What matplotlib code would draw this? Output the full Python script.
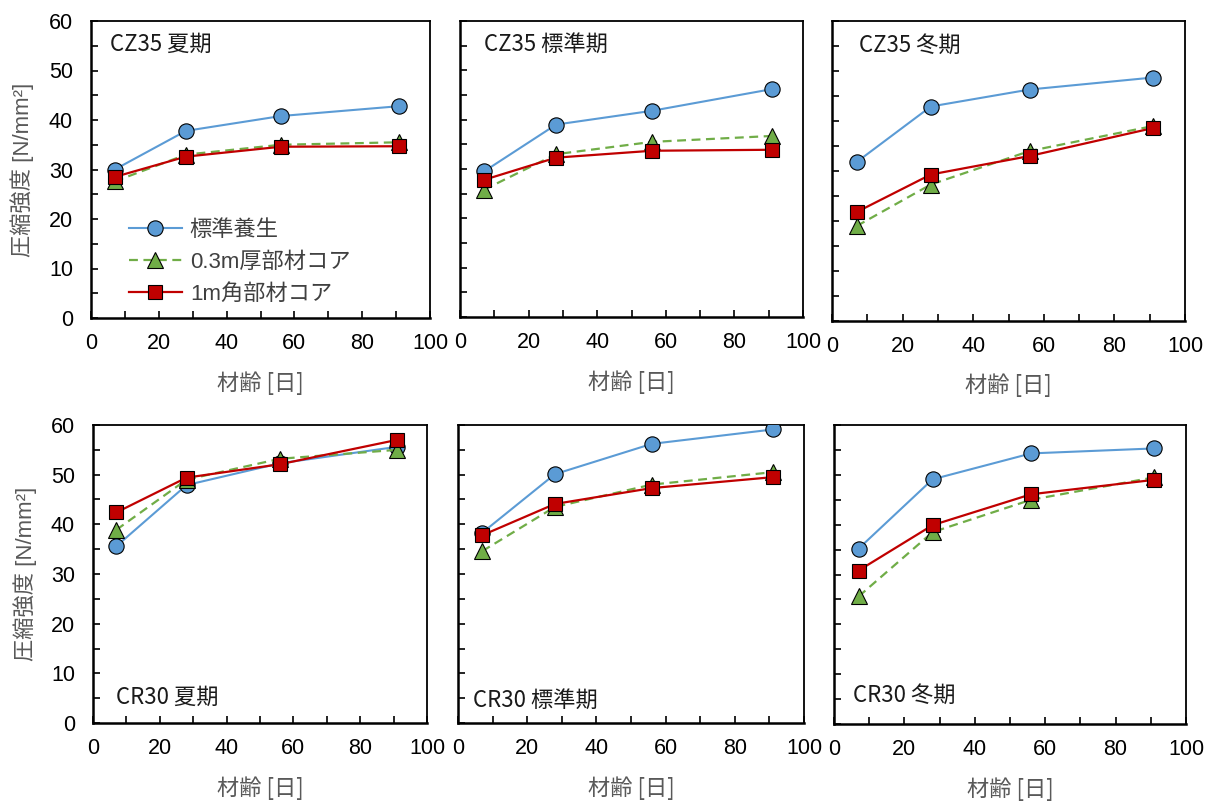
import numpy as np
import matplotlib
matplotlib.use('Agg')
import matplotlib.pyplot as plt
from matplotlib.ticker import MultipleLocator

plt.rcParams['font.family'] = ['Liberation Sans', 'Noto Sans CJK JP']

# data: age in days, strength in N/mm2
days = [7, 28, 56, 91]

titles = ['CZ35 夏期', 'CZ35 標準期', 'CZ35 冬期',
          'CR30 夏期', 'CR30 標準期', 'CR30 冬期']
series_names = ['標準養生', '0.3m厚部材コア', '1m角部材コア']

std_cure = [
    [30.0, 37.8, 40.8, 42.8],
    [29.5, 39.0, 41.8, 46.2],
    [31.8, 42.9, 46.3, 48.7],
    [35.6, 47.9, 52.3, 55.6],
    [38.3, 50.1, 56.2, 59.1],
    [35.2, 49.1, 54.3, 55.3],
]
core_03m = [
    [27.6, 33.0, 35.0, 35.5],
    [25.8, 33.0, 35.5, 36.7],
    [19.0, 27.3, 34.0, 39.0],
    [38.9, 49.0, 53.2, 55.0],
    [34.6, 43.5, 48.0, 50.5],
    [25.6, 38.5, 45.0, 49.5],
]
core_1m = [
    [28.5, 32.6, 34.6, 34.7],
    [27.8, 32.3, 33.7, 33.9],
    [21.8, 29.3, 33.0, 38.6],
    [42.4, 49.4, 52.1, 57.0],
    [37.8, 44.1, 47.3, 49.5],
    [30.8, 39.9, 46.1, 49.0],
]

# axes boxes in pixels: left, right, top, bottom
W, H = 1211, 801
boxes = [(91, 430, 21, 318), (460, 803, 21, 317), (832, 1185, 21, 321),
         (93, 427, 425, 723), (458, 804, 425, 723), (834, 1186, 425, 724)]
title_pos = [(0.056, 0.92), (0.07, 0.92), (0.076, 0.92),
             (0.069, 0.087), (0.043, 0.077), (0.054, 0.097)]

fig = plt.figure(figsize=(W / 100, H / 100), dpi=100)

lab_col = '#595959'
for i, (l, r, t, b) in enumerate(boxes):
    ax = fig.add_axes([l / W, 1 - b / H, (r - l) / W, (b - t) / H])
    ax.plot(days, std_cure[i], '-o', color='#5B9BD5', lw=1.5, ms=11,
            mfc='#5B9BD5', mec='black', mew=0.8, label=series_names[0], zorder=3)
    ax.plot(days, core_03m[i], '--^', color='#70AD47', lw=1.6, ms=11.5,
            mfc='#70AD47', mec='black', mew=0.8, label=series_names[1], zorder=4,
            dashes=(4, 2.5))
    ax.plot(days, core_1m[i], '-s', color='#C00000', lw=1.6, ms=10.5,
            mfc='#C00000', mec='black', mew=0.8, label=series_names[2], zorder=5)

    ax.set_xlim(0, 100)
    ax.set_ylim(0, 60)
    ax.xaxis.set_major_locator(MultipleLocator(20))
    ax.xaxis.set_minor_locator(MultipleLocator(10))
    ax.yaxis.set_major_locator(MultipleLocator(10))
    ax.yaxis.set_minor_locator(MultipleLocator(5))
    ax.tick_params(which='both', direction='in', length=5, width=1.2,
                   top=False, right=False)
    ax.tick_params(axis='x', which='major', labelsize=15.5, pad=11)
    ax.tick_params(axis='y', which='major', labelsize=15.5, pad=13)
    for s in ax.spines.values():
        s.set_linewidth(1.3)
    ax.spines['bottom'].set_linewidth(1.8)
    ax.spines['left'].set_linewidth(1.8)

    if i % 3 != 0:
        ax.set_yticklabels([])
    else:
        ax.set_ylabel('圧縮強度 [N/mm²]', fontsize=16, color=lab_col, va='center')
        ax.yaxis.set_label_coords(-0.204, 0.5)

    ax.set_xlabel('材齢 [日]', fontsize=16, color=lab_col, family='Noto Sans CJK JP')
    ax.xaxis.set_label_coords(0.5, -0.219 if i != 2 else -0.213)
    ax.xaxis.label.set_va('center')

    tx, ty = title_pos[i]
    ax.text(tx, ty, titles[i], transform=ax.transAxes, fontsize=16,
            family='Noto Sans CJK JP', va='center', ha='left', color='#1a1a1a')

    if i == 0:
        ax.legend(loc='upper left', bbox_to_anchor=(0.085, 0.36), frameon=False,
                  handlelength=2.4, handletextpad=0.35,
                  labelspacing=0.5, borderaxespad=0,
                  prop={'family': ['Liberation Sans', 'Noto Sans CJK JP'], 'size': 16},
                  labelcolor='#404040')

fig.savefig('out.png', dpi=100)
